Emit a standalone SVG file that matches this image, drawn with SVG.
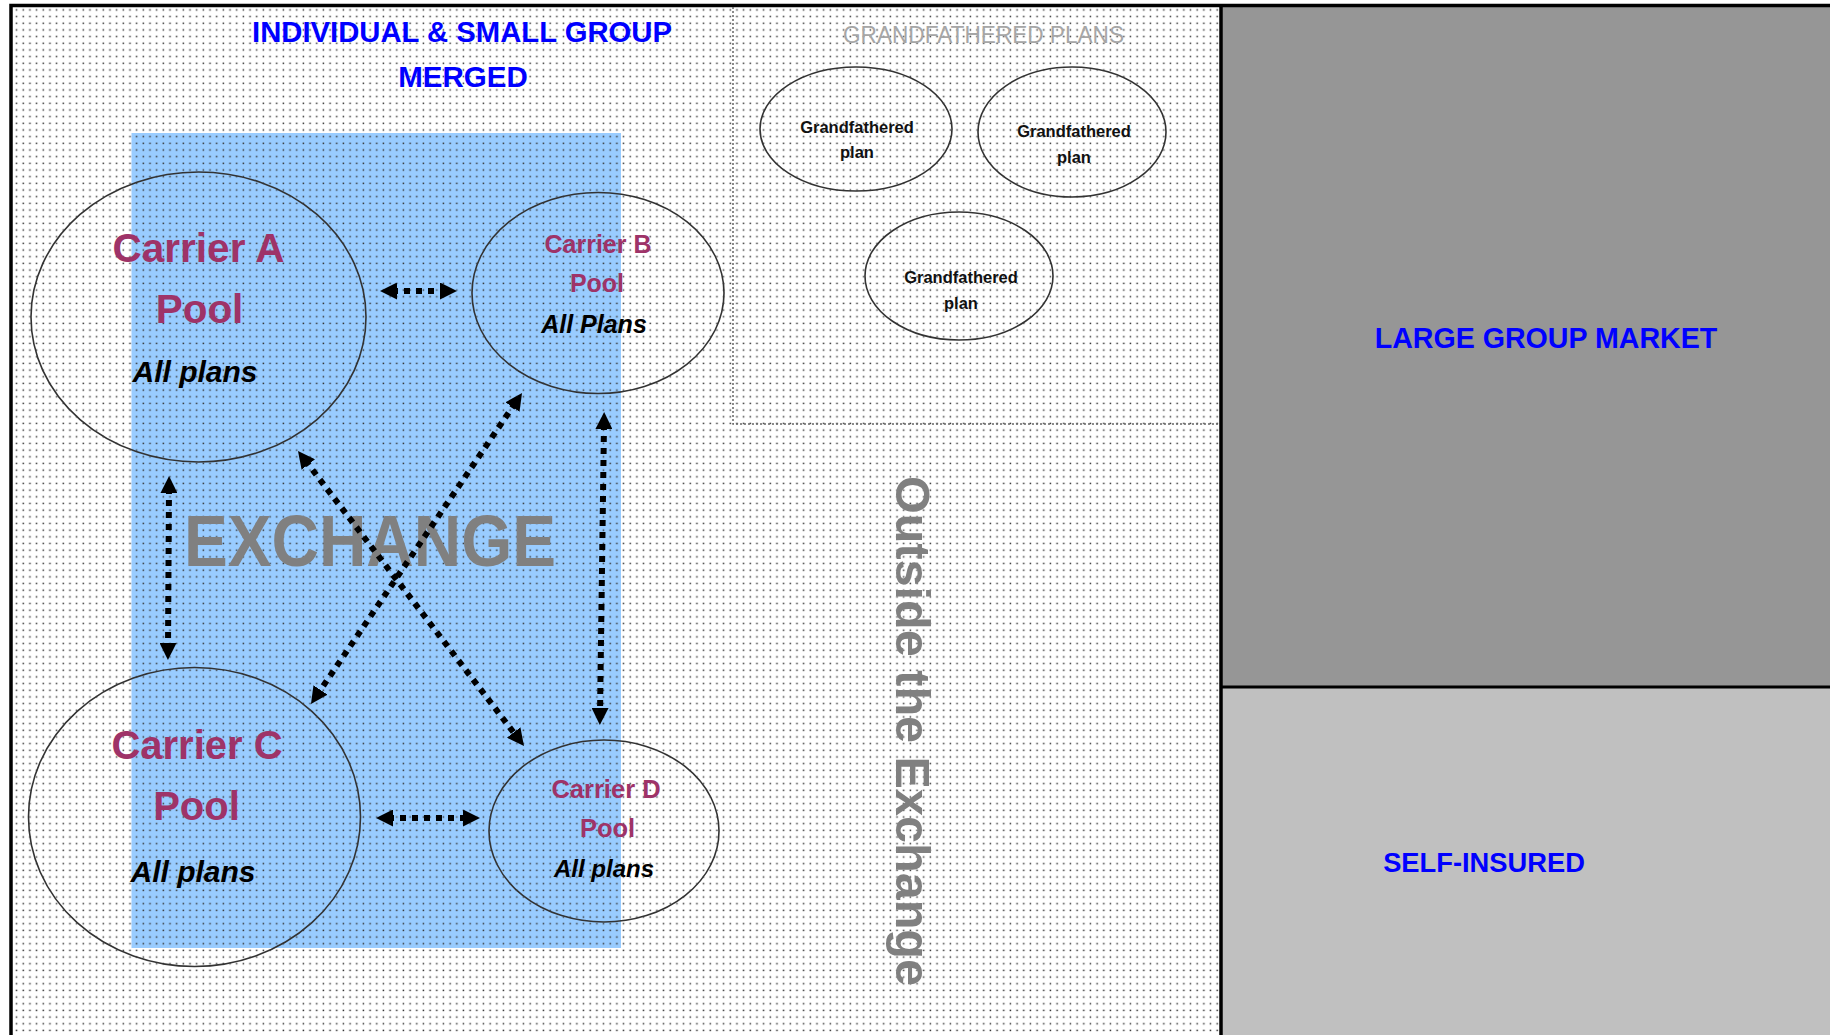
<svg xmlns="http://www.w3.org/2000/svg" width="1830" height="1035" viewBox="0 0 1830 1035">
<style>
.t{font-family:"Liberation Sans",Arial,sans-serif;font-weight:bold}
.blue{fill:#0000FF}
.mag{fill:#9E3368;text-anchor:middle}
.blk{fill:#000;text-anchor:middle}
.ital{font-style:italic}
.gp{fill:#111;text-anchor:middle;font-size:16.5px}
.pool{fill:none;stroke:#333;stroke-width:1.6}
.conn{fill:none;stroke:#000;stroke-width:6;stroke-dasharray:6 6;marker-start:url(#ah);marker-end:url(#ah)}
</style>
<defs>
<pattern id="dots" width="6.67" height="6.67" patternUnits="userSpaceOnUse">
<rect x="2.5" y="2.5" width="1.5" height="1.5" fill="#333"/>
</pattern>
<marker id="ah" viewBox="0 0 17 17" markerWidth="17" markerHeight="17" refX="5" refY="8.5" orient="auto-start-reverse" markerUnits="userSpaceOnUse">
<path d="M0,0 L17,8.5 L0,17 z" fill="#000"/>
</marker>
</defs>

<g id="background">
<rect x="0" y="0" width="1830" height="1035" fill="#fff"/>
<rect x="11" y="6" width="1210" height="1029" fill="#fff"/>
<rect id="exchange-area" x="131.5" y="133" width="489.5" height="815" fill="#99CCFF"/>
<rect x="11" y="6" width="1210" height="1029" fill="url(#dots)"/>
<rect x="1221" y="6" width="609" height="681" fill="#969696"/>
<rect x="1221" y="687" width="609" height="348" fill="#C0C0C0"/>
<path d="M11,1035 V5.5 H1830" fill="none" stroke="#000" stroke-width="3.5"/>
<line x1="1221" y1="5" x2="1221" y2="1035" stroke="#000" stroke-width="3.5"/>
<line x1="1221" y1="687" x2="1830" y2="687" stroke="#000" stroke-width="3"/>
<path d="M733,7 V424 H1220" fill="none" stroke="#666" stroke-width="1.5" stroke-dasharray="2 2"/>
</g>

<g id="labels">
<text class="t blue" x="462" y="42" font-size="29.5" text-anchor="middle" textLength="420" lengthAdjust="spacingAndGlyphs">INDIVIDUAL &amp; SMALL GROUP</text>
<text class="t blue" x="463" y="87" font-size="29.5" text-anchor="middle">MERGED</text>
<text x="983.5" y="43" font-family="Liberation Sans, Arial, sans-serif" font-size="23" fill="#A6A6A6" text-anchor="middle" textLength="281" lengthAdjust="spacingAndGlyphs">GRANDFATHERED PLANS</text>
<text class="t" x="370" y="566" font-size="73" fill="#808080" text-anchor="middle" textLength="372" lengthAdjust="spacingAndGlyphs">EXCHANGE</text>
<text class="t" transform="translate(896,476) rotate(90)" x="0" y="0" font-size="49" fill="#808080" textLength="510" lengthAdjust="spacingAndGlyphs">Outside the Exchange</text>
<text class="t blue" x="1546" y="348" font-size="28.6" text-anchor="middle">LARGE GROUP MARKET</text>
<text class="t blue" x="1484" y="872" font-size="27.3" text-anchor="middle">SELF-INSURED</text>
</g>

<g id="grandfathered-1">
<ellipse cx="856" cy="129" rx="96" ry="62" class="pool"/>
<text class="t gp" x="857" y="133">Grandfathered</text>
<text class="t gp" x="857" y="158">plan</text>
</g>
<g id="grandfathered-2">
<ellipse cx="1072" cy="132" rx="94" ry="65" class="pool"/>
<text class="t gp" x="1074" y="137">Grandfathered</text>
<text class="t gp" x="1074" y="163">plan</text>
</g>
<g id="grandfathered-3">
<ellipse cx="959" cy="276" rx="94" ry="64" class="pool"/>
<text class="t gp" x="961" y="283">Grandfathered</text>
<text class="t gp" x="961" y="309">plan</text>
</g>

<g id="carrier-a">
<ellipse cx="198.5" cy="317" rx="167.5" ry="145" class="pool"/>
<text class="t mag" x="198.5" y="262" font-size="40.5">Carrier A</text>
<text class="t mag" x="199.5" y="323" font-size="40.5">Pool</text>
<text class="t blk ital" x="195" y="382" font-size="30">All plans</text>
</g>
<g id="carrier-b">
<ellipse cx="598" cy="293" rx="126" ry="100.5" class="pool"/>
<text class="t mag" x="598" y="253" font-size="25">Carrier B</text>
<text class="t mag" x="597" y="292" font-size="25">Pool</text>
<text class="t blk ital" x="594" y="333" font-size="25">All Plans</text>
</g>
<g id="carrier-c">
<ellipse cx="194.5" cy="817" rx="166" ry="149.5" class="pool"/>
<text class="t mag" x="197" y="759" font-size="40">Carrier C</text>
<text class="t mag" x="196.5" y="820" font-size="40">Pool</text>
<text class="t blk ital" x="193" y="882" font-size="30">All plans</text>
</g>
<g id="carrier-d">
<ellipse cx="604" cy="831" rx="115" ry="91" class="pool"/>
<text class="t mag" x="606" y="798" font-size="25.5">Carrier D</text>
<text class="t mag" x="607.5" y="837" font-size="25.5">Pool</text>
<text class="t blk ital" x="604" y="877" font-size="24">All plans</text>
</g>

<g id="connectors">
<path class="conn" d="M392,291 L445,291"/>
<path class="conn" d="M169,488 L168,648"/>
<path class="conn" d="M604,424 L600,713"/>
<path class="conn" d="M388,818 L468,818"/>
<path class="conn" d="M305.3,460.5 L516.7,736.5"/>
<path class="conn" d="M515.3,402.9 L317.7,694.1"/>
</g>
</svg>
